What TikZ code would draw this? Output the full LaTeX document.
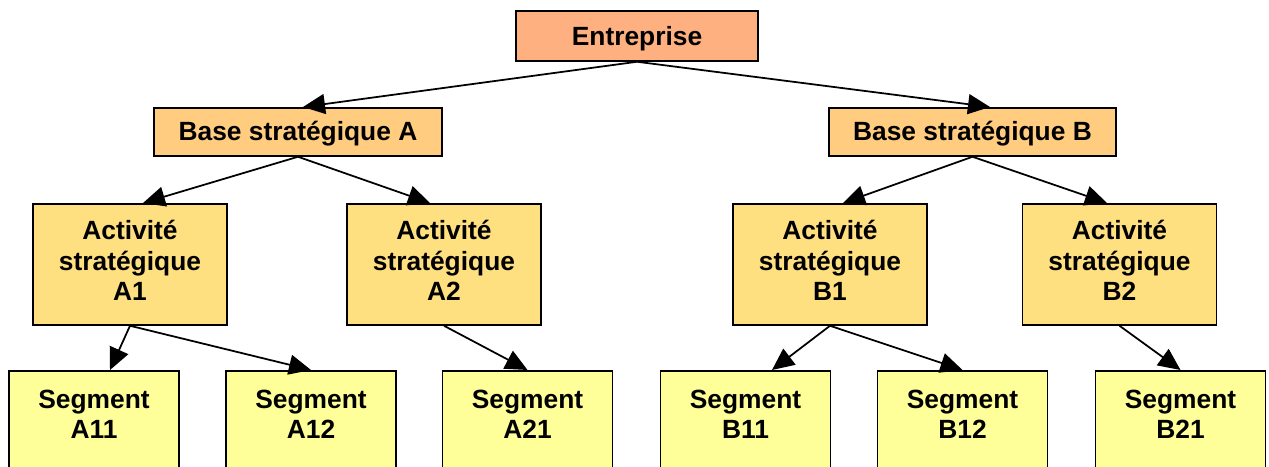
\documentclass[tikz,border=0pt]{standalone}
\usepackage{fontspec}
\setmainfont{Liberation Sans}
\usepackage{xcolor}
\usepackage{tikz}
\usetikzlibrary{arrows.meta,positioning}
\definecolor{entcol}{RGB}{255,176,128}
\definecolor{basecol}{RGB}{255,204,128}
\definecolor{actcol}{RGB}{255,224,128}
\definecolor{segcol}{RGB}{255,255,153}

\begin{document}
\begin{tikzpicture}
	\tikzstyle{every node} = [rectangle, draw = black, line width = 1pt, inner sep = 0pt, anchor = north, align = center, font = \bfseries\fontsize{15}{17.4}\selectfont]
	\tikzstyle{entbox} = [fill = entcol, minimum width = 4.84cm, text height = 0.70cm, text depth = 0.30cm]
	\tikzstyle{basebox} = [fill = basecol, minimum width = 5.75cm, text height = 0.66cm, text depth = 0.30cm]
	\tikzstyle{actbox} = [fill = actcol, minimum width = 3.88cm, text height = 1.94cm, text depth = 0.48cm]
	\tikzstyle{segbox} = [fill = segcol, minimum width = 3.40cm, text height = 1.36cm, text depth = 2.00cm]
	\tikzstyle{arr} = [-{Triangle[length = 0.44cm, width = 0.40cm]}, line width = 1pt]
\useasboundingbox (0, 0) rectangle (25.38, 9.32);
\clip (0, 0) rectangle (25.38, 9.32);
\node[entbox] (e) at (12.74, 9.12) {Entreprise};
\node[basebox] (ba) at (5.96, 7.18) {Base stratégique A};
\node[basebox] (bb) at (19.45, 7.18) {Base stratégique B};
\node[actbox] (a1) at (2.60, 5.26) {Activité\\stratégique\\A1};
\node[actbox] (a2) at (8.88, 5.26) {Activité\\stratégique\\A2};
\node[actbox] (b1) at (16.60, 5.26) {Activité\\stratégique\\B1};
\node[actbox] (b2) at (22.39, 5.26) {Activité\\stratégique\\B2};
\node[segbox] (a11) at (1.88, 1.92) {Segment\\A11};
\node[segbox] (a12) at (6.22, 1.92) {Segment\\A12};
\node[segbox] (a21) at (10.55, 1.92) {Segment\\A21};
\node[segbox] (b11) at (14.91, 1.92) {Segment\\B11};
\node[segbox] (b12) at (19.25, 1.92) {Segment\\B12};
\node[segbox] (b21) at (23.61, 1.92) {Segment\\B21};
	\draw[arr] (e.south) -- ([xshift = 0.10cm]ba.north);
	\draw[arr] (e.south) -- ([xshift = 0.35cm]bb.north);
	\draw[arr] (ba.south) -- ([xshift = 0.26cm]a1.north);
	\draw[arr] (ba.south) -- ([xshift = -0.28cm]a2.north);
	\draw[arr] (bb.south) -- ([xshift = 0.26cm]b1.north);
	\draw[arr] (bb.south) -- ([xshift = -0.25cm]b2.north);
	\draw[arr] (a1.south) -- ([xshift = 0.32cm]a11.north);
	\draw[arr] (a1.south) -- (a12.north);
	\draw[arr] (a2.south) -- (a21.north);
	\draw[arr] (b1.south) -- ([xshift = 0.53cm]b11.north);
	\draw[arr] (b1.south) -- (b12.north);
	\draw[arr] (b2.south) -- (b21.north);
\end{tikzpicture}
\end{document}
